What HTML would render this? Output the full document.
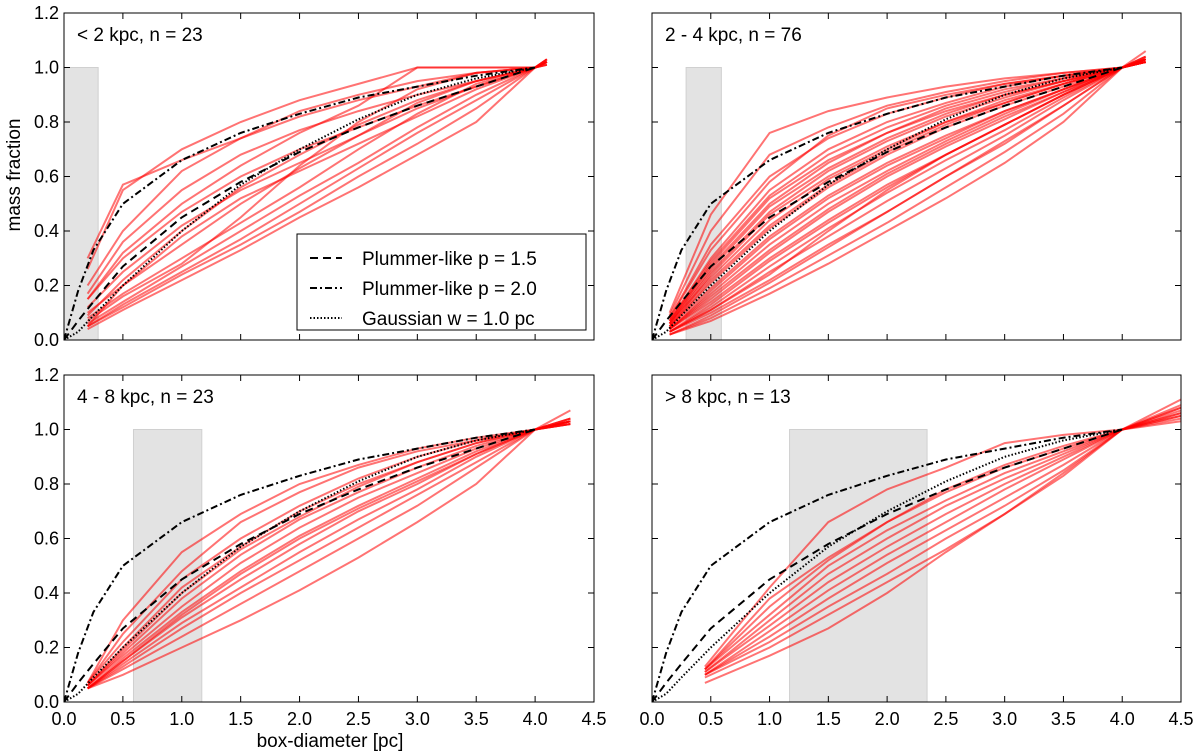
<!DOCTYPE html>
<html><head><meta charset="utf-8">
<style>
html,body{margin:0;padding:0;background:#fff;}
svg{display:block;font-family:"Liberation Sans","DejaVu Sans",sans-serif;}
</style></head>
<body>
<svg id="chart" width="1200" height="755" viewBox="0 0 1200 755" xmlns="http://www.w3.org/2000/svg">
<text x="20" y="175" font-size="19" text-anchor="middle" transform="rotate(-90 20 175)">mass fraction</text>
<text x="330" y="747" font-size="19" text-anchor="middle">box-diameter [pc]</text>
</svg>
<script>
// model curves (shared)
const modelX = [0, 0.12, 0.25, 0.5, 1.0, 1.5, 2.0, 2.5, 3.0, 3.5, 4.0];
const plummer15 = [0, 0.07, 0.14, 0.27, 0.45, 0.58, 0.69, 0.78, 0.86, 0.93, 1.0];
const plummer20 = [0, 0.18, 0.33, 0.50, 0.66, 0.76, 0.83, 0.89, 0.93, 0.97, 1.0];
const gaussian = [0, 0.03, 0.09, 0.20, 0.40, 0.57, 0.70, 0.81, 0.90, 0.96, 1.0];
const xTicks = ["0.0","0.5","1.0","1.5","2.0","2.5","3.0","3.5","4.0","4.5"];
const yTicks = ["0.0","0.2","0.4","0.6","0.8","1.0","1.2"];

// panel 1
const p1Title = "< 2 kpc, n = 23";
const p1Box = [0, 0.29];
const p1X = [0.2, 0.5, 1.0, 1.5, 2.0, 2.5, 3.0, 3.5, 4.0, 4.1];
const p1Curves = [
 [0.30,0.57,0.66,0.74,0.82,0.88,0.93,0.98,1.0,1.02],
 [0.26,0.55,0.70,0.80,0.88,0.94,1.0,1.0,1.0,1.02],
 [0.20,0.40,0.62,0.74,0.84,0.90,0.95,0.98,1.0,1.03],
 [0.15,0.30,0.47,0.60,0.70,0.78,0.86,0.93,1.0,1.02],
 [0.12,0.25,0.42,0.55,0.65,0.75,0.85,0.93,1.0,1.01],
 [0.10,0.20,0.35,0.50,0.63,0.75,0.87,0.95,1.0,1.02],
 [0.08,0.17,0.30,0.43,0.56,0.70,0.83,0.94,1.0,1.03],
 [0.06,0.14,0.27,0.40,0.53,0.65,0.78,0.90,1.0,1.01],
 [0.05,0.12,0.24,0.35,0.47,0.60,0.72,0.85,1.0,1.02],
 [0.04,0.11,0.22,0.33,0.45,0.56,0.68,0.80,1.0,1.02],
 [0.15,0.32,0.50,0.64,0.76,0.86,1.0,1.0,1.0,1.01],
 [0.05,0.20,0.38,0.52,0.62,0.72,0.82,0.92,1.0,1.03],
 [0.17,0.36,0.55,0.68,0.77,0.84,0.90,0.95,1.0,1.02],
 [0.07,0.16,0.28,0.45,0.64,0.80,0.92,0.98,1.0,1.02],
 [0.05,0.13,0.25,0.37,0.50,0.63,0.76,0.88,1.0,1.03],
 [0.09,0.22,0.40,0.56,0.68,0.79,0.88,0.95,1.0,1.02]
];
// panel 2
const p2Title = "2 - 4 kpc, n = 76";
const p2Box = [0.29, 0.59];
const p2X = [0.15, 0.5, 1.0, 1.5, 2.0, 2.5, 3.0, 3.5, 4.0, 4.2];
const p2Curves = [
 [0.10,0.46,0.76,0.84,0.89,0.93,0.96,0.98,1.0,1.03],
 [0.09,0.40,0.68,0.78,0.86,0.91,0.95,0.98,1.0,1.04],
 [0.08,0.35,0.60,0.74,0.83,0.89,0.94,0.97,1.0,1.03],
 [0.07,0.30,0.55,0.70,0.80,0.87,0.93,0.97,1.0,1.02],
 [0.07,0.27,0.50,0.65,0.76,0.85,0.91,0.96,1.0,1.03],
 [0.06,0.25,0.47,0.62,0.73,0.82,0.89,0.95,1.0,1.04],
 [0.06,0.23,0.44,0.59,0.70,0.80,0.88,0.94,1.0,1.02],
 [0.05,0.21,0.41,0.56,0.68,0.78,0.86,0.93,1.0,1.03],
 [0.05,0.19,0.38,0.53,0.65,0.75,0.84,0.92,1.0,1.03],
 [0.04,0.17,0.35,0.50,0.62,0.73,0.83,0.92,1.0,1.02],
 [0.04,0.15,0.32,0.47,0.60,0.71,0.81,0.91,1.0,1.04],
 [0.04,0.14,0.30,0.44,0.57,0.68,0.79,0.90,1.0,1.03],
 [0.03,0.12,0.27,0.41,0.54,0.66,0.77,0.89,1.0,1.02],
 [0.03,0.11,0.25,0.38,0.51,0.63,0.75,0.88,1.0,1.03],
 [0.03,0.10,0.22,0.35,0.47,0.60,0.72,0.86,1.0,1.02],
 [0.02,0.08,0.19,0.31,0.43,0.56,0.69,0.83,1.0,1.03],
 [0.02,0.07,0.17,0.28,0.40,0.52,0.65,0.80,1.0,1.03],
 [0.08,0.33,0.58,0.75,0.85,0.90,0.94,0.97,1.0,1.06],
 [0.06,0.28,0.52,0.66,0.76,0.84,0.90,0.95,1.0,1.03],
 [0.05,0.24,0.46,0.60,0.71,0.80,0.87,0.94,1.0,1.02],
 [0.05,0.22,0.42,0.57,0.69,0.79,0.87,0.94,1.0,1.03],
 [0.04,0.18,0.37,0.52,0.64,0.74,0.84,0.92,1.0,1.02],
 [0.04,0.16,0.33,0.48,0.61,0.72,0.82,0.91,1.0,1.03],
 [0.03,0.13,0.29,0.43,0.56,0.68,0.79,0.90,1.0,1.02],
 [0.02,0.09,0.21,0.34,0.47,0.60,0.73,0.86,1.0,1.03],
 [0.07,0.29,0.53,0.68,0.78,0.86,0.92,0.96,1.0,1.02],
 [0.06,0.26,0.49,0.63,0.74,0.83,0.90,0.95,1.0,1.03],
 [0.03,0.11,0.24,0.40,0.55,0.68,0.79,0.90,1.0,1.03]
];
// panel 3
const p3Title = "4 - 8 kpc, n = 23";
const p3Box = [0.59, 1.17];
const p3X = [0.2, 0.5, 1.0, 1.5, 2.0, 2.5, 3.0, 3.5, 4.0, 4.3];
const p3Curves = [
 [0.07,0.30,0.55,0.69,0.80,0.87,0.93,0.97,1.0,1.07],
 [0.07,0.25,0.48,0.66,0.77,0.86,0.92,0.96,1.0,1.04],
 [0.07,0.22,0.45,0.60,0.72,0.82,0.90,0.96,1.0,1.03],
 [0.06,0.20,0.42,0.57,0.70,0.80,0.88,0.95,1.0,1.04],
 [0.06,0.18,0.38,0.54,0.67,0.77,0.86,0.94,1.0,1.03],
 [0.06,0.17,0.35,0.51,0.64,0.75,0.84,0.93,1.0,1.02],
 [0.05,0.16,0.33,0.48,0.61,0.72,0.82,0.92,1.0,1.03],
 [0.05,0.15,0.31,0.45,0.58,0.70,0.80,0.91,1.0,1.04],
 [0.05,0.14,0.29,0.42,0.55,0.67,0.78,0.90,1.0,1.02],
 [0.05,0.13,0.27,0.40,0.52,0.64,0.76,0.88,1.0,1.03],
 [0.05,0.12,0.24,0.36,0.48,0.60,0.72,0.86,1.0,1.02],
 [0.05,0.10,0.20,0.30,0.41,0.53,0.66,0.80,1.0,1.03],
 [0.06,0.19,0.40,0.56,0.68,0.79,0.88,0.95,1.0,1.03],
 [0.05,0.15,0.32,0.47,0.60,0.71,0.81,0.91,1.0,1.02]
];
// panel 4
const p4Title = "> 8 kpc, n = 13";
const p4Box = [1.17, 2.34];
const p4X = [0.45, 1.0, 1.5, 2.0, 2.5, 3.0, 3.5, 4.0, 4.5];
const p4Curves = [
 [0.13,0.42,0.66,0.78,0.86,0.95,0.98,1.0,1.08],
 [0.12,0.38,0.53,0.66,0.78,0.87,0.94,1.0,1.11],
 [0.12,0.32,0.50,0.63,0.74,0.84,0.92,1.0,1.06],
 [0.11,0.30,0.47,0.60,0.72,0.82,0.91,1.0,1.08],
 [0.11,0.28,0.44,0.57,0.69,0.80,0.90,1.0,1.04],
 [0.10,0.26,0.41,0.54,0.66,0.78,0.89,1.0,1.07],
 [0.10,0.24,0.38,0.51,0.63,0.75,0.87,1.0,1.05],
 [0.10,0.22,0.35,0.47,0.60,0.72,0.85,1.0,1.09],
 [0.09,0.20,0.32,0.44,0.56,0.69,0.83,1.0,1.03],
 [0.07,0.17,0.27,0.40,0.55,0.69,0.84,1.0,1.06],
 [0.12,0.35,0.52,0.66,0.77,0.86,0.93,1.0,1.05]
];

const NS = "http://www.w3.org/2000/svg";
const svg = document.getElementById("chart");
function mk(tag, attrs, parent){const e=document.createElementNS(NS,tag);for(const k in attrs)e.setAttribute(k,attrs[k]);(parent||svg).appendChild(e);return e;}

const panels = [
 {x0:64,x1:594,y0:13,y1:340,title:p1Title,box:p1Box,xs:p1X,curves:p1Curves,ylab:true,xlab:false,legend:true},
 {x0:652,x1:1181,y0:13,y1:340,title:p2Title,box:p2Box,xs:p2X,curves:p2Curves,ylab:false,xlab:false},
 {x0:64,x1:594,y0:375,y1:702,title:p3Title,box:p3Box,xs:p3X,curves:p3Curves,ylab:true,xlab:true},
 {x0:652,x1:1181,y0:375,y1:702,title:p4Title,box:p4Box,xs:p4X,curves:p4Curves,ylab:false,xlab:true}
];

panels.forEach((p,pi)=>{
 const g = mk("g",{});
 
 
 const sx = v => p.x0 + v/4.5*(p.x1-p.x0);
 const sy = v => p.y1 - v/1.2*(p.y1-p.y0);
 const cp = mk("clipPath",{id:"clip"+pi},g);
 mk("rect",{x:p.x0,y:p.y0,width:p.x1-p.x0,height:p.y1-p.y0},cp);
 const shade = mk("rect",{x:sx(p.box[0]),y:sy(1),width:sx(p.box[1])-sx(p.box[0]),height:sy(0)-sy(1),fill:"#e3e3e3",stroke:"#d0d0d0","stroke-width":1},g);
 
 
 const cg = mk("g",{"clip-path":"url(#clip"+pi+")"},g);
 p.curves.forEach((c,ci)=>{
  const d = c.map((v,i)=>(i?"L":"M")+sx(p.xs[i]).toFixed(1)+","+sy(v).toFixed(1)).join("");
  const l = mk("path",{d:d,fill:"none",stroke:"#ff0000","stroke-opacity":0.55,"stroke-width":2},cg);
  
  
 });
 const models=[[plummer15,"8,5"],[plummer20,"7,3,2,3"],[gaussian,"1.5,2"]];
 models.forEach((m,mi)=>{
  const d = m[0].map((v,i)=>(i?"L":"M")+sx(modelX[i]).toFixed(1)+","+sy(v).toFixed(1)).join("");
  const l = mk("path",{d:d,fill:"none",stroke:"#000","stroke-width":2,"stroke-dasharray":m[1]},cg);
  
  
 });
 const fr = mk("rect",{x:p.x0,y:p.y0,width:p.x1-p.x0,height:p.y1-p.y0,fill:"none",stroke:"#000","stroke-width":1},g);
 
 
 xTicks.forEach((t,i)=>{
  const x = sx(parseFloat(t));
  mk("line",{x1:x,x2:x,y1:p.y1,y2:p.y1-6,stroke:"#000"},g);
  mk("line",{x1:x,x2:x,y1:p.y0,y2:p.y0+6,stroke:"#000"},g);
  if(p.xlab){const tx=mk("text",{x:x,y:p.y1+23,"font-size":18,"text-anchor":"middle"},g);tx.textContent=t;
   
   }
 });
 yTicks.forEach((t,i)=>{
  const y = sy(parseFloat(t));
  mk("line",{x1:p.x0,x2:p.x0+6,y1:y,y2:y,stroke:"#000"},g);
  mk("line",{x1:p.x1,x2:p.x1-6,y1:y,y2:y,stroke:"#000"},g);
  if(p.ylab){const tx=mk("text",{x:p.x0-5,y:y+6,"font-size":18,"text-anchor":"end"},g);tx.textContent=t;
   
   }
 });
 const tt = mk("text",{x:p.x0+13,y:p.y0+28,"font-size":19},g);
 tt.textContent = p.title;
 
 
 if(p.legend){
  const lg = mk("g",{},g);
  
  
  mk("rect",{x:297,y:234,width:289,height:96,fill:"#fff",stroke:"#000","stroke-width":1},lg);
  const labels=["Plummer-like p = 1.5","Plummer-like p = 2.0","Gaussian w = 1.0 pc"];
  models.forEach((m,mi)=>{
   const y=258+mi*30;
   mk("line",{x1:310,x2:342,y1:y,y2:y,stroke:"#000","stroke-width":2,"stroke-dasharray":m[1]},lg);
   const tx=mk("text",{x:362,y:y+7,"font-size":19},lg);tx.textContent=labels[mi];
   
   
  });
 }
});
</script>
</body></html>
